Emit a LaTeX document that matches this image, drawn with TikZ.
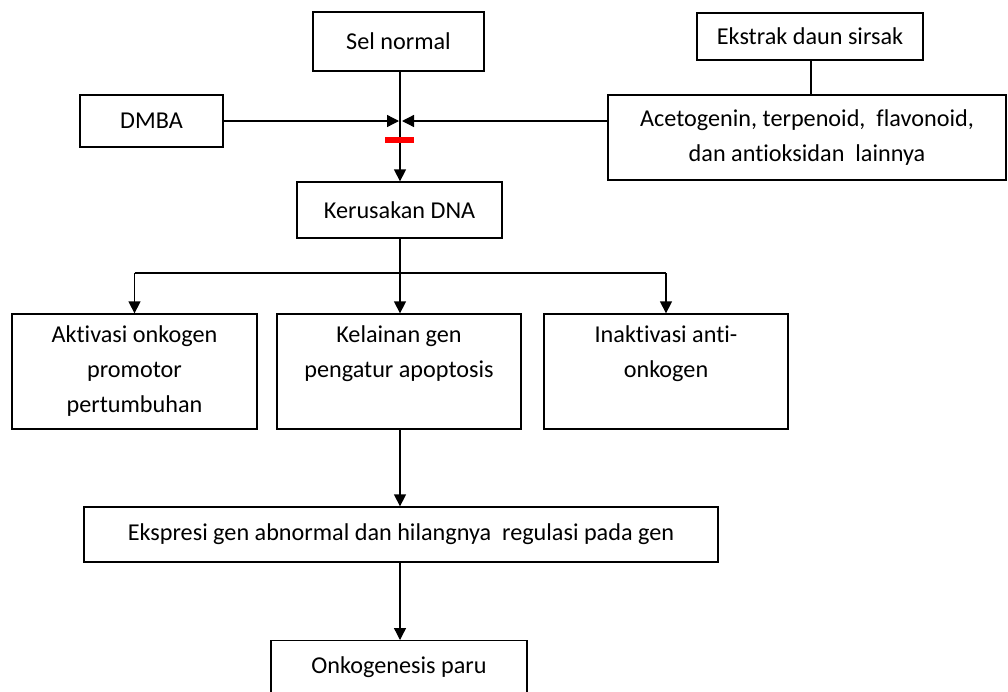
\documentclass[tikz,border=0pt]{standalone}
\usepackage{fontspec}
\setmainfont{Carlito}[Ligatures={NoCommon}]
\usetikzlibrary{arrows.meta}
\begin{document}
\begin{tikzpicture}[x=1pt,y=-1pt,
  box/.style={draw, line width=1.3pt, rectangle, inner sep=0pt, align=center,
    font=\fontsize{24.2}{35}\selectfont},
  txt/.style={inner sep=0pt, align=center, font=\fontsize{24.2}{35}\selectfont},
  arr/.style={line width=1.3pt, -{Triangle[width=12pt,length=12pt]}},
  ln/.style={line width=1.3pt}]
\useasboundingbox (0,0) rectangle (1008,691);
\node[box, minimum width=171, minimum height=59] (sel) at (398.5,41.5) {Sel normal};
\node[box, minimum width=226, minimum height=47] (ekstrak) at (810,36.5) {Ekstrak daun sirsak};
\node[box, minimum width=143, minimum height=52] (dmba) at (151.5,121) {DMBA};
\node[box, minimum width=398, minimum height=85] (aceto) at (807,137.5) {Acetogenin, terpenoid,\ \ flavonoid,\\dan antioksidan\ \ lainnya};
\node[box, minimum width=205, minimum height=56] (kerus) at (399.5,210) {Kerusakan DNA};
\node[box, minimum width=245, minimum height=115] (aktiv) at (134.5,371.5) {};
\node[box, minimum width=244, minimum height=115] (kelain) at (399,371.5) {};
\node[box, minimum width=244, minimum height=115] (inakt) at (666,371.5) {};
\node[txt, anchor=north] (aktivt) at ([yshift=-12]aktiv.north) {Aktivasi onkogen\\promotor\\pertumbuhan};
\node[txt, anchor=north] (kelaint) at ([yshift=-12]kelain.north) {Kelainan gen\\pengatur apoptosis};
\node[txt, anchor=north] (inaktt) at ([yshift=-12]inakt.north) {Inaktivasi anti-\\onkogen};
\node[box, minimum width=634, minimum height=55] (ekspr) at (401,534.5) {Ekspresi gen abnormal\ dan hilangnya\ \ regulasi pada\ gen};
\node[box, minimum width=256, minimum height=80, anchor=north] (onko) at (399,640) {};
\node[txt, anchor=base] (onkot) at (399,673) {Onkogenesis paru};
% junction
\coordinate (J) at (400,121);
\coordinate (B) at (400,273);
\draw[arr] (sel.south -| J) -- (kerus.north -| J);
\draw[arr] (dmba.east |- J) -- ([xshift=-1]J);
\draw[arr] (aceto.west |- J) -- ([xshift=2]J);
\draw[red, line width=6pt] (385,140) -- (414,140);
\draw[ln] (ekstrak.south -| 811,0) -- (aceto.north -| 811,0);
% branch
\draw[ln] (kerus.south -| B) -- (B);
\draw[ln] (aktiv.north |- B) -- (inakt.north |- B);
\draw[arr] (aktiv.north |- B) -- (aktiv.north);
\draw[arr] (B) -- (kelain.north -| B);
\draw[arr] (inakt.north |- B) -- (inakt.north);
% bottom
\draw[arr] (kelain.south -| B) -- (ekspr.north -| B);
\draw[arr] (ekspr.south -| B) -- (onko.north -| B);
\end{tikzpicture}
\end{document}
